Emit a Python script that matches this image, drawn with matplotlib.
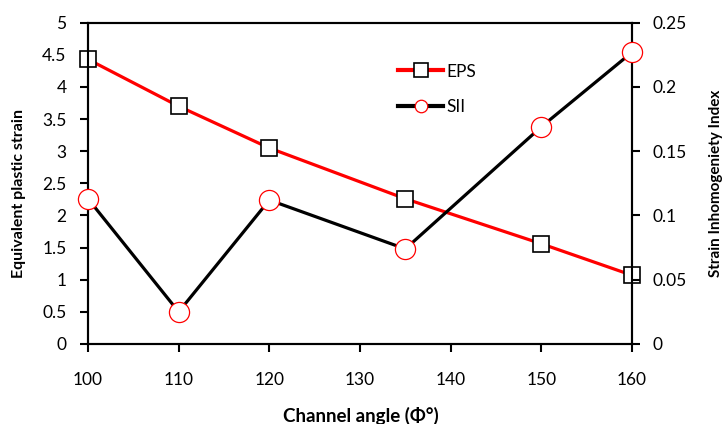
import matplotlib
matplotlib.use("Agg")
import matplotlib.pyplot as plt

angles = [100, 110, 120, 135, 150, 160]
eps = [4.43, 3.70, 3.05, 2.26, 1.56, 1.07]
sii = [0.113, 0.025, 0.112, 0.074, 0.169, 0.227]
left_ticks = [0, 0.5, 1, 1.5, 2, 2.5, 3, 3.5, 4, 4.5, 5]
right_ticks = [0, 0.05, 0.1, 0.15, 0.2, 0.25]
x_ticks = [100, 110, 120, 130, 140, 150, 160]

plt.rcParams['font.family'] = ['Lato', 'DejaVu Sans']

fig = plt.figure(figsize=(7.22, 4.24), dpi=100)
L, R, T, B = 88, 632, 22.7, 344
ax = fig.add_axes([L/722, 1-B/424, (R-L)/722, (B-T)/424])
ax2 = ax.twinx()

l1, = ax.plot(angles, eps, color='#ff0000', lw=2.3, marker='s', ms=11,
              mfc='white', mec='black', mew=1.2, label='EPS', zorder=3, clip_on=False)
l2, = ax2.plot(angles, sii, color='black', lw=2.3, marker='o', ms=14.5,
               mfc='white', mec='#ff0000', mew=0.9, label='SII', zorder=3, clip_on=False)

ax.set_xlim(100, 160)
ax.set_ylim(0, 5)
ax2.set_ylim(0, 0.25)
ax.set_xticks(x_ticks)
ax.set_yticks(left_ticks)
ax2.set_yticks(right_ticks)
ax.set_yticklabels([f"{t:g}" for t in left_ticks])
ax2.set_yticklabels([f"{t:g}" for t in right_ticks])

for a in (ax, ax2):
    for s in a.spines.values():
        s.set_linewidth(1.5)
ax.tick_params(axis='both', direction='out', length=5.5, width=1.5, labelsize=12.5, colors='black')
ax.tick_params(axis='x', pad=15)
ax.tick_params(axis='y', pad=10)
ax2.tick_params(axis='y', direction='out', length=5.5, width=1.5, labelsize=12.5, pad=9.5)

fig.text(12/722, 0.5425, 'Equivalent plastic strain', rotation=90, ha='left', va='center',
         fontsize=11.5, fontweight='bold')
fig.text(709/722, 0.568, 'Strain Inhomogeniety Index', rotation=90, ha='left', va='center',
         fontsize=11, fontweight='bold')
fig.text(361/722, 1-407/424, 'Channel angle (Φ°)', ha='center', va='top',
         fontsize=13.5, fontweight='bold')

leg = ax.legend([l1, l2], ['EPS', 'SII'], loc='center left',
                bbox_to_anchor=((398-L)/(R-L), (B-89.5)/(B-T)),
                frameon=False, fontsize=12.5, handlelength=2.6, handletextpad=0.2,
                labelspacing=1.15, borderaxespad=0, borderpad=0)
for h, ms, lw in zip(leg.legend_handles, [9.5, 9], [3.0, 3.0]):
    h.set_markersize(ms)
    h.set_linewidth(lw)

fig.savefig('out.png', dpi=100)
